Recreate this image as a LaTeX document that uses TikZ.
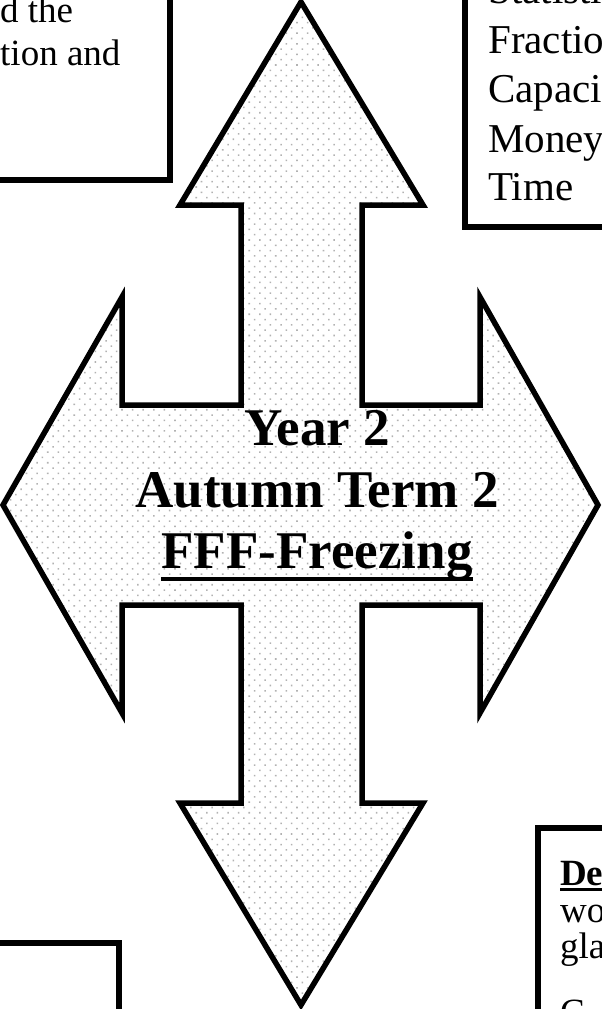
\documentclass[tikz,border=0pt]{standalone}
\usepackage{fontspec}
\setmainfont{Liberation Serif}
\usetikzlibrary{patterns.meta}

\begin{document}
\begin{tikzpicture}[x=1pt,y=-1pt,
        riquadro/.style={line width=6pt},
        croce/.style={line width=5.5pt,line join=miter,pattern={Dots[radius=1.1pt,distance=7.5pt,angle=45]},pattern color=black!30},
        testo/.style={anchor=base west,inner sep=0pt,font=\fontsize{41}{49}\selectfont},
        testino/.style={anchor=base west,inner sep=0pt,font=\fontsize{37}{42}\selectfont},
        titolo/.style={anchor=base,inner sep=0pt,font=\fontsize{53}{62}\selectfont\bfseries}]
        \useasboundingbox (0,0) rectangle (602,1009);
        \clip (0,0) rectangle (602,1009);
        % frecce
        \draw [croce] (301,2) -- (423,205) -- (362,205) -- (362,405) -- (480,405) -- (480,297)
            -- (598,505) -- (480,713) -- (480,605) -- (362,605) -- (362,803) -- (423,803)
            -- (301,1005) -- (180,803) -- (241,803) -- (241,605) -- (122,605) -- (122,713)
            -- (3,505) -- (122,297) -- (122,405) -- (241,405) -- (241,205) -- (180,205) -- cycle;
        % titolo
        \node [titolo] (anno) at (317,445) {Year 2};
        \node [titolo] (termine) at (317,507) {Autumn Term 2};
        \node [titolo] (tema) at (317,568) {FFF-Freezing};
        \draw [line width=4pt] ([yshift=-11pt]tema.base west) -- ([yshift=-11pt]tema.base east);
        % riquadri
        \draw [riquadro] (-10,-10) rectangle (170,180);
        \draw [riquadro] (465,-10) rectangle (620,227);
        \draw [riquadro] (-10,943) rectangle (119,1030);
        \draw [riquadro] (538,828) rectangle (620,1030);
        % testi
        \node [testino] (alto1) at (0,23) {d the};
        \node [testino] (alto2) at (0,65) {tion and};

        \node [testo] (mat1) at (488,4) {Statisti};
        \node [testo] (mat2) at (488,53) {Fractio};
        \node [testo] (mat3) at (488,102) {Capaci};
        \node [testo] (mat4) at (488,152) {Money};
        \node [testo] (mat5) at (488,200) {Time};

        \node [testino] (dx1) at (560,885) {\bfseries De};
        \draw [line width=3pt] ([yshift=-4pt]dx1.base west) -- ([yshift=-4pt]dx1.base east);
        \node [testino] (dx2) at (560,922) {wo};
        \node [testino] (dx3) at (560,958) {gla};
        \node [testino] (dx4) at (560,1024) {C};
\end{tikzpicture}
\end{document}
